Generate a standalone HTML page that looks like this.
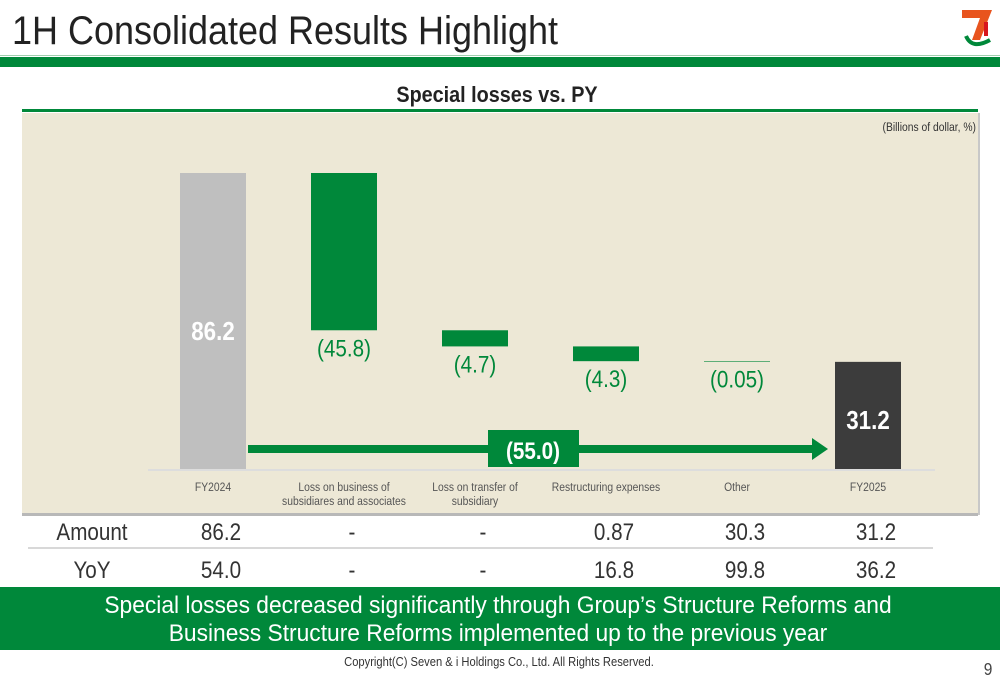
<!DOCTYPE html>
<html><head><meta charset="utf-8"><style>
html,body{margin:0;padding:0;background:#fff;width:1000px;height:685px;overflow:hidden}
svg{display:block;font-family:"Liberation Sans Narrow","Liberation Sans",sans-serif}
</style></head><body>
<svg id="s" width="1000" height="685" viewBox="0 0 1000 685" xmlns="http://www.w3.org/2000/svg">
<text x="12" y="44" font-size="40" fill="#222" textLength="546" lengthAdjust="spacingAndGlyphs">1H Consolidated Results Highlight</text>
<g>
<polygon points="962,10 992,10 980,40 972,40 980,18 962,18" fill="#e8541e"/>
<path d="M966,36 Q972,50 990,40" stroke="#00883a" stroke-width="4" fill="none"/>
<rect x="984" y="22" width="4" height="14" fill="#d7161e"/>
</g>
<rect x="0" y="57" width="1000" height="10" fill="#00883a"/>
<rect x="0" y="55" width="1000" height="1" fill="#9fcfae"/>
<text x="497" y="102" font-size="22" font-weight="bold" fill="#222" text-anchor="middle" data-sx="0.9">Special losses vs. PY</text>
<rect x="22" y="109" width="956" height="3" fill="#00883a"/>
<rect x="22" y="113" width="956" height="400" fill="#ede8d6"/>
<rect x="22" y="513" width="956" height="3" fill="#b8b8b8"/>
<rect x="978" y="113" width="2" height="402" fill="#c8c8c8"/>
<text x="976" y="131" font-size="12" fill="#333" text-anchor="end">(Billions of dollar, %)</text>
<line x1="148" y1="470" x2="935" y2="470" stroke="#ddd" stroke-width="2"/>
<g id="chart"></g>
<g id="table"></g>
<rect x="0" y="587" width="1000" height="63" fill="#00883a"/>
<text x="498" y="613" font-size="24" fill="#fff" text-anchor="middle" data-sx="0.95">Special losses decreased significantly through Group’s Structure Reforms and</text>
<text x="498" y="641" font-size="24" fill="#fff" text-anchor="middle" data-sx="0.95">Business Structure Reforms implemented up to the previous year</text>
<text x="499" y="666" font-size="13" fill="#333" text-anchor="middle">Copyright(C) Seven &amp; i Holdings Co., Ltd. All Rights Reserved.</text>
<text x="988" y="675" font-size="18" fill="#444" text-anchor="middle">9</text>
</svg>
<script>
const categories=["FY2024","Loss on business of|subsidiares and associates","Loss on transfer of|subsidiary","Restructuring expenses","Other","FY2025"];
const startValue=86.2;
const deltas=[-45.8,-4.7,-4.3,-0.05];
const endValue=31.2;
const deltaLabels=["(45.8)","(4.7)","(4.3)","(0.05)"];
const totalChange="(55.0)";
const amountRow=["86.2","-","-","0.87","30.3","31.2"];
const yoyRow=["54.0","-","-","16.8","99.8","36.2"];
const NS="http://www.w3.org/2000/svg";
const g=document.getElementById('chart'),tb=document.getElementById('table');
const base=469,scale=296/86.2;
const y=v=>base-v*scale;
const cx=i=>213+i*131;
const bw=66;
function el(t,a,p){const e=document.createElementNS(NS,t);for(const k in a)e.setAttribute(k,a[k]);(p||g).appendChild(e);return e;}
function txt(s,a,p){const e=el('text',a,p);e.textContent=s;return e;}
let r=el('rect',{x:cx(0)-bw/2,y:y(startValue),width:bw,height:base-y(startValue),fill:'#bfbfbf'});


let t=txt(startValue.toFixed(1),{x:cx(0),y:y(startValue)+167,'font-size':26,'font-weight':'bold',fill:'#fff','text-anchor':'middle'});


let run=startValue;
deltas.forEach((d,i)=>{
  const top=y(run),bot=y(run+d);
  const b=el('rect',{x:cx(i+1)-bw/2,y:top,width:bw,height:Math.max(bot-top,0.6),fill:'#00883a'});
  
  
  const l=txt(deltaLabels[i],{x:cx(i+1),y:bot+26,'font-size':24,fill:'#00883a','text-anchor':'middle'});
  
  
  run+=d;
});
r=el('rect',{x:cx(5)-bw/2,y:y(endValue),width:bw,height:base-y(endValue),fill:'#3c3c3c'});


t=txt(endValue.toFixed(1),{x:cx(5),y:y(endValue)+67,'font-size':26,'font-weight':'bold',fill:'#fff','text-anchor':'middle'});


const ar=el('polygon',{points:'248,445 812,445 812,438 828,449 812,460 812,453 248,453',fill:'#00883a'});


const bx=el('rect',{x:488,y:430,width:91,height:37,fill:'#00883a'});


txt(totalChange,{x:533,y:459,'font-size':24,'font-weight':'bold',fill:'#fff','text-anchor':'middle'});
categories.forEach((c,i)=>{
  c.split('|').forEach((ln,j)=>{
    const e=txt(ln,{x:cx(i),y:491+j*14,'font-size':12,fill:'#555','text-anchor':'middle'});
    
    
  });
});
const a=txt('Amount',{x:92,y:540,'font-size':24,fill:'#333','text-anchor':'middle'},tb);


const yy=txt('YoY',{x:92,y:578,'font-size':24,fill:'#333','text-anchor':'middle'},tb);


el('line',{x1:28,y1:548,x2:933,y2:548,stroke:'#ccc','stroke-width':1.5},tb);
amountRow.forEach((v,i)=>{const e=txt(v,{x:cx(i)+8,y:540,'font-size':24,fill:'#333','text-anchor':'middle'},tb);
  
  });
yoyRow.forEach((v,i)=>{const e=txt(v,{x:cx(i)+8,y:578,'font-size':24,fill:'#333','text-anchor':'middle'},tb);
  
  });
document.querySelectorAll('text').forEach(e=>{
  if(e.hasAttribute('textLength'))return;
  const sx=parseFloat(e.getAttribute('data-sx')||'0.86');
  const x=parseFloat(e.getAttribute('x'));
  e.setAttribute('transform','translate('+x+',0) scale('+sx+',1) translate('+(-x)+',0)');
});
</script>
</body></html>
